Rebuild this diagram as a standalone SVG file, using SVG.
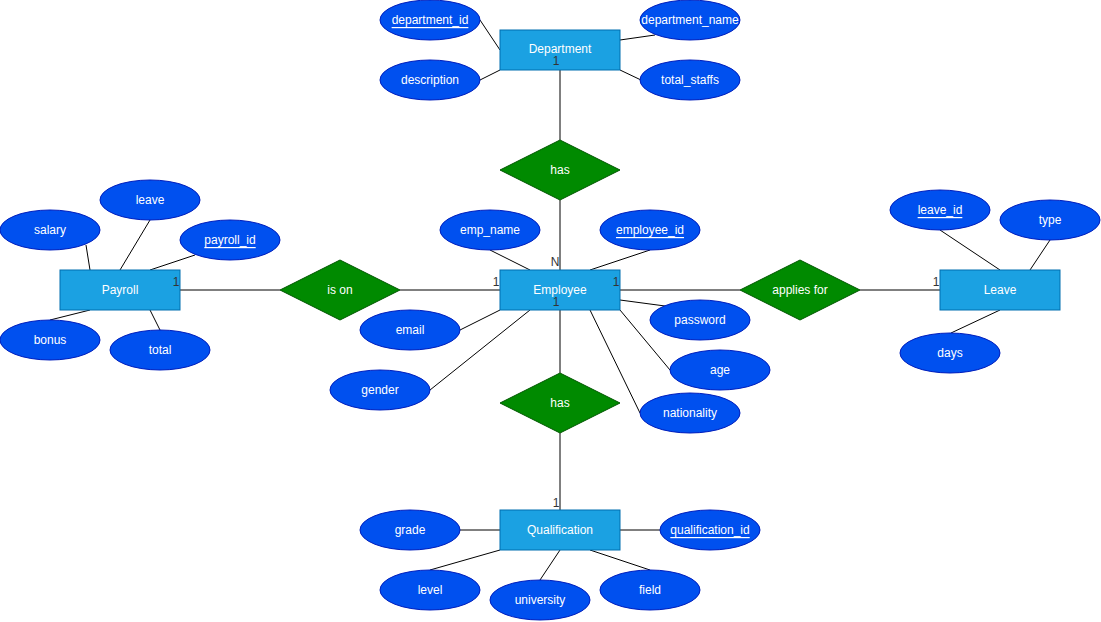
<svg xmlns="http://www.w3.org/2000/svg" width="1101" height="622" viewBox="0 0 1101 622">
<style>
.ent{fill:#1ba1e2;stroke:#006eaf;stroke-width:1}
.att{fill:#0050ef;stroke:#001dbc;stroke-width:1}
.rel{fill:#008a00;stroke:#005700;stroke-width:1}
.t{font-family:"Liberation Sans",Arial,sans-serif;font-size:12px;fill:#ffffff;text-anchor:middle;dominant-baseline:central}
.u{text-decoration:underline}
.lbl{font-family:"Liberation Sans",Arial,sans-serif;font-size:12px;fill:#333333;text-anchor:middle;dominant-baseline:central}
.c line{stroke:#000000;stroke-width:1}
</style>
<rect width="1101" height="622" fill="#ffffff"/>
<g class="c" id="connectors">
<line x1="480" y1="20" x2="500" y2="50"/>
<line x1="480" y1="80" x2="500" y2="70"/>
<line x1="620" y1="40" x2="655" y2="35"/>
<line x1="620" y1="70" x2="641" y2="80"/>
<line x1="560" y1="70" x2="560" y2="140"/>
<line x1="560" y1="200" x2="560" y2="270"/>
<line x1="86" y1="245" x2="90" y2="270"/>
<line x1="150" y1="220" x2="120" y2="270"/>
<line x1="195" y1="255" x2="150" y2="270"/>
<line x1="90" y1="310" x2="50" y2="320"/>
<line x1="150" y1="310" x2="160" y2="330"/>
<line x1="180" y1="290" x2="280" y2="290"/>
<line x1="400" y1="290" x2="500" y2="290"/>
<line x1="490" y1="250" x2="530" y2="270"/>
<line x1="650" y1="250" x2="590" y2="270"/>
<line x1="460" y1="330" x2="500" y2="310"/>
<line x1="430" y1="390" x2="530" y2="310"/>
<line x1="620" y1="300" x2="665" y2="306"/>
<line x1="620" y1="310" x2="670" y2="370"/>
<line x1="590" y1="310" x2="640" y2="413"/>
<line x1="560" y1="310" x2="560" y2="373"/>
<line x1="560" y1="433" x2="560" y2="510"/>
<line x1="620" y1="290" x2="740" y2="290"/>
<line x1="860" y1="290" x2="940" y2="290"/>
<line x1="940" y1="230" x2="1000" y2="270"/>
<line x1="1050" y1="240" x2="1030" y2="270"/>
<line x1="1000" y1="310" x2="951" y2="333"/>
<line x1="460" y1="530" x2="500" y2="530"/>
<line x1="620" y1="530" x2="660" y2="530"/>
<line x1="500" y1="550" x2="430" y2="570"/>
<line x1="560" y1="550" x2="540" y2="580"/>
<line x1="590" y1="550" x2="650" y2="570"/>
</g>
<g id="department"><rect class="ent" x="500" y="30" width="120" height="40"/><text class="t" x="560" y="49">Department</text></g>
<g id="employee"><rect class="ent" x="500" y="270" width="120" height="40"/><text class="t" x="560" y="290">Employee</text></g>
<g id="payroll"><rect class="ent" x="60" y="270" width="120" height="40"/><text class="t" x="120" y="290">Payroll</text></g>
<g id="leave"><rect class="ent" x="940" y="270" width="120" height="40"/><text class="t" x="1000" y="290">Leave</text></g>
<g id="qualification"><rect class="ent" x="500" y="510" width="120" height="40"/><text class="t" x="560" y="530">Qualification</text></g>
<g id="rel-has-dept"><polygon class="rel" points="560,140 620,170 560,200 500,170"/><text class="t" x="560" y="170">has</text></g>
<g id="rel-has-qual"><polygon class="rel" points="560,373 620,403 560,433 500,403"/><text class="t" x="560" y="403">has</text></g>
<g id="rel-is-on"><polygon class="rel" points="340,260 400,290 340,320 280,290"/><text class="t" x="340" y="290">is on</text></g>
<g id="rel-applies-for"><polygon class="rel" points="800,260 860,290 800,320 740,290"/><text class="t" x="800" y="290">applies for</text></g>
<g id="attr-department_id"><ellipse class="att" cx="430" cy="20" rx="50" ry="20"/><text class="t u" x="430" y="20">department_id</text></g>
<g id="attr-description"><ellipse class="att" cx="430" cy="80" rx="50" ry="20"/><text class="t" x="430" y="80">description</text></g>
<g id="attr-department_name"><ellipse class="att" cx="690" cy="20" rx="50" ry="20"/><text class="t" x="690" y="20">department_name</text></g>
<g id="attr-total_staffs"><ellipse class="att" cx="690" cy="80" rx="50" ry="20"/><text class="t" x="690" y="80">total_staffs</text></g>
<g id="attr-salary"><ellipse class="att" cx="50" cy="230" rx="50" ry="20"/><text class="t" x="50" y="230">salary</text></g>
<g id="attr-leave"><ellipse class="att" cx="150" cy="200" rx="50" ry="20"/><text class="t" x="150" y="200">leave</text></g>
<g id="attr-payroll_id"><ellipse class="att" cx="230" cy="240" rx="50" ry="20"/><text class="t u" x="230" y="240">payroll_id</text></g>
<g id="attr-bonus"><ellipse class="att" cx="50" cy="340" rx="50" ry="20"/><text class="t" x="50" y="340">bonus</text></g>
<g id="attr-total"><ellipse class="att" cx="160" cy="350" rx="50" ry="20"/><text class="t" x="160" y="350">total</text></g>
<g id="attr-emp_name"><ellipse class="att" cx="490" cy="230" rx="50" ry="20"/><text class="t" x="490" y="230">emp_name</text></g>
<g id="attr-employee_id"><ellipse class="att" cx="650" cy="230" rx="50" ry="20"/><text class="t u" x="650" y="230">employee_id</text></g>
<g id="attr-email"><ellipse class="att" cx="410" cy="330" rx="50" ry="20"/><text class="t" x="410" y="330">email</text></g>
<g id="attr-gender"><ellipse class="att" cx="380" cy="390" rx="50" ry="20"/><text class="t" x="380" y="390">gender</text></g>
<g id="attr-password"><ellipse class="att" cx="700" cy="320" rx="50" ry="20"/><text class="t" x="700" y="320">password</text></g>
<g id="attr-age"><ellipse class="att" cx="720" cy="370" rx="50" ry="20"/><text class="t" x="720" y="370">age</text></g>
<g id="attr-nationality"><ellipse class="att" cx="690" cy="413" rx="50" ry="20"/><text class="t" x="690" y="413">nationality</text></g>
<g id="attr-leave_id"><ellipse class="att" cx="940" cy="210" rx="50" ry="20"/><text class="t u" x="940" y="210">leave_id</text></g>
<g id="attr-type"><ellipse class="att" cx="1050" cy="220" rx="50" ry="20"/><text class="t" x="1050" y="220">type</text></g>
<g id="attr-days"><ellipse class="att" cx="950" cy="353" rx="50" ry="20"/><text class="t" x="950" y="353">days</text></g>
<g id="attr-grade"><ellipse class="att" cx="410" cy="530" rx="50" ry="20"/><text class="t" x="410" y="530">grade</text></g>
<g id="attr-qualification_id"><ellipse class="att" cx="710" cy="530" rx="50" ry="20"/><text class="t u" x="710" y="530">qualification_id</text></g>
<g id="attr-level"><ellipse class="att" cx="430" cy="590" rx="50" ry="20"/><text class="t" x="430" y="590">level</text></g>
<g id="attr-university"><ellipse class="att" cx="540" cy="600" rx="50" ry="20"/><text class="t" x="540" y="600">university</text></g>
<g id="attr-field"><ellipse class="att" cx="650" cy="590" rx="50" ry="20"/><text class="t" x="650" y="590">field</text></g>
<g id="labels">
<text class="lbl" x="556" y="61">1</text>
<text class="lbl" x="555" y="262">N</text>
<text class="lbl" x="176" y="282">1</text>
<text class="lbl" x="496" y="282">1</text>
<text class="lbl" x="616" y="282">1</text>
<text class="lbl" x="556" y="302">1</text>
<text class="lbl" x="936" y="282">1</text>
<text class="lbl" x="556" y="503">1</text>
</g>
</svg>
